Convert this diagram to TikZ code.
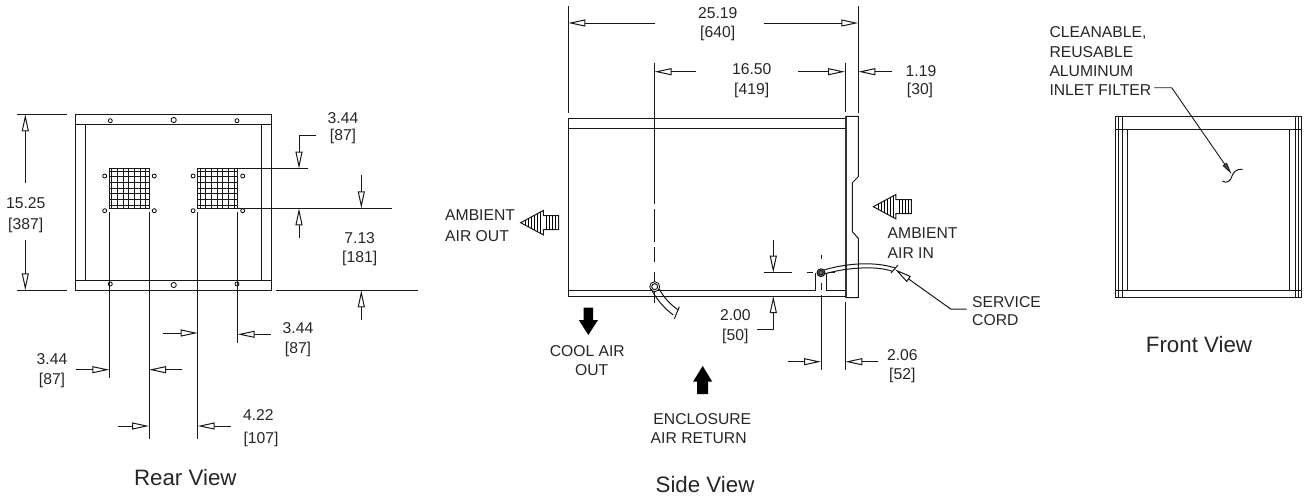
\documentclass[tikz,border=0pt]{standalone}
\usepackage{fontspec}
\setmainfont{Liberation Sans}
\usetikzlibrary{arrows.meta}
\tikzset{
  line/.style={line width=1pt,black!90},
  dim/.style={line width=1pt,black!90,-{Triangle[open,fill=white,length=17pt,width=7pt]}},
  lead/.style={line width=.9pt,black!90,-{Triangle[fill=black!70,length=12pt,width=5pt]}},
  lbl/.style={inner sep=0pt,font=\fontsize{15.7}{18}\selectfont,text=black!85},
  viewlbl/.style={inner sep=0pt,font=\fontsize{22.3}{25}\selectfont,text=black!85},
  hole/.style={line width=.8pt,black,fill=white},
  airarrow/.pic={
    \draw [line] (0,0) -- (22.6,-12.2) -- (22.6,-7) -- (38,-7) -- (38,7) -- (22.6,7) -- (22.6,12.2) -- cycle;
    \foreach \i in {5,8,...,20} \draw [line width=.7pt] (\i,-\i*.54) -- (\i,\i*.54);
    \foreach \i in {26,29,...,35} \draw [line width=.7pt] (\i,-7) -- (\i,7);
  }
}
\begin{document}
\begin{tikzpicture}[x=1pt,y=-1pt]
\useasboundingbox (0,0) rectangle (1304,498);
% rear view
\draw [line] (75.7,114.3) rectangle (271.7,290.3);
\draw [line] (75.7,124) -- (271.7,124) (75.7,280.3) -- (271.7,280.3);
\draw [line] (85.7,124) -- (85.7,280.3) (261.7,124) -- (261.7,280.3);
\foreach \x/\y/\r in {110.3/120.7/2,173.7/120/2.6,237/120.7/2,110.3/284/2,173.7/285/2.6,237/284/2}
  \draw [hole] (\x,\y) circle (\r);
\foreach \gx in {109.3,197.7} {
  \draw [line] (\gx,168.7) rectangle ++(40.2,39.6);
  \foreach \i in {2.3,8,13.7,19.4,25,30.7,36.4} {
    \draw [line] (\gx+\i,168.7) -- (\gx+\i,208.3);
    \draw [line] (\gx,168.7+\i) -- (\gx+40.2,168.7+\i);
  }
  \foreach \x/\y in {-4.6/176,45/176,-4.6/210.7,45/210.7}
    \draw [hole] (\gx+\x,\y) circle (2);
}
\draw [line] (16.7,114.3) -- (66.7,114.3) (16.7,290.3) -- (66.7,290.3);
\draw [dim] (25.3,183.3) -- (25.3,114.3);
\draw [dim] (25.3,240) -- (25.3,290.3);
\node [lbl] (hgt) at (25.7,203) {15.25};
\node [lbl] (hgtb) at (25.7,225) {[387]};
\draw [line] (237.7,168.7) -- (308.3,168.7) (237.7,208.3) -- (391.7,208.3) (276,290.3) -- (417.7,290.3);
\draw [dim] (315.7,135.3) -- (299,135.3) -- (299,168.7);
\draw [dim] (299,237.7) -- (299,208.3);
\draw [dim] (361.3,175.3) -- (361.3,208.3);
\draw [dim] (361.3,320) -- (361.3,290.3);
\node [lbl] (grid) at (343,117.7) {3.44};
\node [lbl] (gridb) at (343,136) {[87]};
\node [lbl] (lower) at (359.7,237.7) {7.13};
\node [lbl] (lowerb) at (359.7,258.3) {[181]};
\draw [line] (109.3,212.3) -- (109.3,378.3) (149,212.3) -- (149,439.3);
\draw [line] (197.7,212.3) -- (197.7,439.3) (237.7,212.3) -- (237.7,343.3);
\draw [line,line width=1.3pt] (197.7,212.3) -- (197.7,343.3);
\draw [dim] (163.3,333) -- (197.7,333);
\draw [dim] (271,334.3) -- (237.7,334.3);
\draw [dim] (76,369.7) -- (109.3,369.7);
\draw [dim] (182.3,369.7) -- (149,369.7);
\draw [dim] (117.7,426) -- (149,426);
\draw [dim] (231,426) -- (197.7,426);
\node [lbl] (wr) at (298,328.3) {3.44};
\node [lbl] (wrb) at (298,349.3) {[87]};
\node [lbl] (wl) at (52,359) {3.44};
\node [lbl] (wlb) at (52,380) {[87]};
\node [lbl] (gap) at (258.3,414.7) {4.22};
\node [lbl] (gapb) at (261,439.3) {[107]};
\node [viewlbl] (rear) at (185.3,477.3) {Rear View};
% side view
\draw [line] (568.3,118) -- (845,118) -- (845,296) -- (568.3,296) -- cycle;
\draw [line] (568.3,128.7) -- (845,128.7);
\draw [line] (568.3,290.3) -- (815.3,290.3) -- (815.3,272.7);
\draw [line] (826,273) -- (826,290.3) -- (845,290.3);
\draw [line width=1.8pt,black!80] (846,116.3) -- (846,297.7);
\draw [line] (846,116.3) -- (858.3,116.3) -- (858.3,176.7) -- (852.3,182.7) -- (852.3,231.7) -- (858.3,238.3) -- (858.3,297.7) -- (846,297.7);
\draw [line] (568.3,6) -- (568.3,113.3) (858.3,6) -- (858.3,113.3) (845,62.7) -- (845,111.7);
\draw [dim] (655,23) -- (568.3,23);
\draw [dim] (764,23) -- (858.3,23);
\node [lbl] (depth) at (717.7,12.7) {25.19};
\node [lbl] (depthb) at (717.7,33) {[640]};
\draw [line] (654.5,62.7) -- (654.5,204) (654.5,209.3) -- (654.5,241.7) (654.5,247) -- (654.5,261.7) (654.5,271.7) -- (654.5,303.3);
\draw [dim] (696,71.7) -- (654.5,71.7);
\draw [dim] (798.3,71.7) -- (845,71.7);
\node [lbl] (drain) at (751.7,69) {16.50};
\node [lbl] (drainb) at (751.7,90) {[419]};
\draw [dim] (891.7,71.7) -- (858.3,71.7);
\node [lbl] (flange) at (921,71) {1.19};
\node [lbl] (flangeb) at (920,90) {[30]};
\pic at (520.7,222.7) {airarrow};
\pic at (873.3,206.7) {airarrow};
\node [lbl,anchor=west] (outa) at (445,215) {AMBIENT};
\node [lbl,anchor=west] (outb) at (445,235.7) {AIR OUT};
\node [lbl,anchor=west] (ina) at (887.5,233) {AMBIENT};
\node [lbl,anchor=west] (inb) at (887.5,252.7) {AIR IN};
% cords
\draw [hole] (654.7,286.7) circle (5);
\draw [line] (654.7,286.7) circle (3);
\draw [line] (651,289) .. controls (657,300) and (664,308) .. (673.3,315);
\draw [line] (659.3,289) .. controls (664,298) and (671,305) .. (678.3,310);
\draw [line] (679.3,306.7) -- (674.3,319);
\draw [hole,fill=black!55] (821,272.7) circle (4);
\draw [line] (821,272.7) circle (2.2);
\draw [line] (824,270) .. controls (845,263.5) and (875,261) .. (895,268);
\draw [line] (824,274) .. controls (845,268) and (875,265) .. (893,271.5);
\draw [line] (891,273) -- (898,265);
\node [lbl,anchor=west] (corda) at (972,302) {SERVICE};
\node [lbl,anchor=west] (cordb) at (972,320) {CORD};
\coordinate (cordend) at (895,269.3);
\draw [dim] (966.7,309) -- (950.7,309) -- (cordend);
\draw [line] (764.3,272.7) -- (791.7,272.7) (806.7,272.7) -- (813.3,272.7) (828,272.7) -- (835,272.7);
\draw [dim] (773.3,240) -- (773.3,272.7);
\draw [dim] (757.3,329) -- (773.3,329) -- (773.3,296);
\node [lbl] (rim) at (735.3,314.7) {2.00};
\node [lbl] (rimb) at (735.3,336) {[50]};
\draw [line] (821,254.7) -- (821,258.7) (821,282.7) -- (821,290) (821,295) -- (821,370);
\draw [line] (845.3,302.3) -- (845.3,370);
\draw [dim] (787.7,361.7) -- (821,361.7);
\draw [dim] (878.3,361.7) -- (845.3,361.7);
\node [lbl] (cord) at (902.3,354.7) {2.06};
\node [lbl] (cordbk) at (902.3,375.3) {[52]};
\fill [black] (583.6,307.7) -- (593,307.7) -- (593,320) -- (598,320) -- (588.3,335) -- (578.8,320) -- (583.6,320) -- cycle;
\fill [black] (697.2,394) -- (708,394) -- (708,381.7) -- (712.3,381.7) -- (702.7,366) -- (693,381.7) -- (697.2,381.7) -- cycle;
\node [lbl] (coola) at (587.3,350.7) {COOL AIR};
\node [lbl] (coolb) at (591.7,370.3) {OUT};
\node [lbl] (enca) at (702.3,419.3) {ENCLOSURE};
\node [lbl] (encb) at (698.7,438.3) {AIR RETURN};
\node [viewlbl] (side) at (705,484.3) {Side View};
% front view
\draw [line] (1115.3,116.3) rectangle (1301.3,297.7);
\draw [line] (1115.3,129.3) -- (1301.3,129.3) (1115.3,290.3) -- (1301.3,290.3);
\foreach \x in {1118.3,1122.3,1295,1298.7}
  \draw [line] (\x,116.3) -- (\x,297.7);
\foreach \x in {1127.7,1289.3}
  \draw [line] (\x,129.3) -- (\x,290.3);
\node [lbl,anchor=west] (fa) at (1049.3,32.7) {CLEANABLE,};
\node [lbl,anchor=west] (fb) at (1049.3,51.7) {REUSABLE};
\node [lbl,anchor=west] (fc) at (1049.3,70.7) {ALUMINUM};
\node [lbl,anchor=west] (fd) at (1049.3,89.7) {INLET FILTER};
\coordinate (filter) at (1231.5,174);
\draw [lead] (fd.east) ++(3,-2) -- (1171.7,87.7) -- (filter);
\draw [line] (1242.7,169.3) .. controls (1236,168.5) and (1233,173) .. (1232,176) .. controls (1231,181) and (1226,184) .. (1222.3,181);
\node [viewlbl] (front) at (1199,344.3) {Front View};
\end{tikzpicture}
\end{document}
